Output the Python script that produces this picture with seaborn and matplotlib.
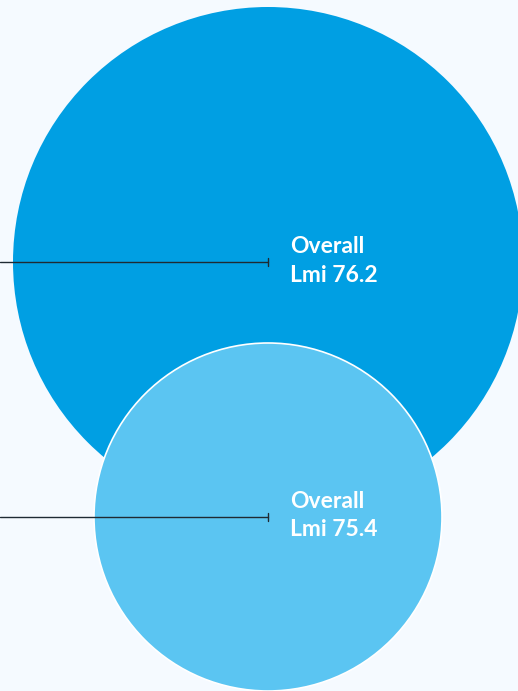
import matplotlib
matplotlib.use("Agg")
import matplotlib.pyplot as plt
from matplotlib.patches import Circle
import seaborn as sns

# Groups, their Lmi scores and bubble radii (pixel units of the canvas)
groups = ["Overall", "Overall"]
lmi_values = [76.2, 75.4]
bubble_radius = [255, 174]
bubble_center_x = [268, 268]
bubble_center_y = [262, 517]
bubble_colors = ["#009FE3", "#5BC5F2"]
bubble_edges = ["none", "white"]

sns.set_theme(style="white")
plt.rcParams["font.family"] = ["Lato", "DejaVu Sans"]

W, H = 518, 691
fig = plt.figure(figsize=(W / 100, H / 100), dpi=100)
bg = "#F5FAFF"
fig.patch.set_facecolor(bg)
ax = fig.add_axes([0, 0, 1, 1])
ax.set_facecolor(bg)
ax.set_xlim(0, W)
ax.set_ylim(H, 0)
ax.set_aspect("equal")
ax.axis("off")

for i in range(len(groups)):
    cx, cy, r = bubble_center_x[i], bubble_center_y[i], bubble_radius[i]
    ax.add_patch(Circle((cx, cy), r, facecolor=bubble_colors[i],
                        edgecolor=bubble_edges[i], linewidth=1.2, zorder=2 + i))
    # leader line from the left edge to the bubble centre
    sns.lineplot(x=[0, cx], y=[cy, cy], ax=ax, color="#1f2a33",
                 linewidth=1.0, zorder=10, legend=False)
    ax.plot([cx, cx], [cy - 4, cy + 4], color="#1f2a33", linewidth=1.0, zorder=10)
    ax.text(cx + 22, cy - 16, groups[i], color="white", fontsize=16.5,
            fontweight="bold", ha="left", va="center", zorder=11)
    ax.text(cx + 22, cy + 13, f"Lmi {lmi_values[i]:.1f}", color="white",
            fontsize=16.5, fontweight="bold", ha="left", va="center", zorder=11)

fig.savefig("out.png", dpi=100, facecolor=bg)
